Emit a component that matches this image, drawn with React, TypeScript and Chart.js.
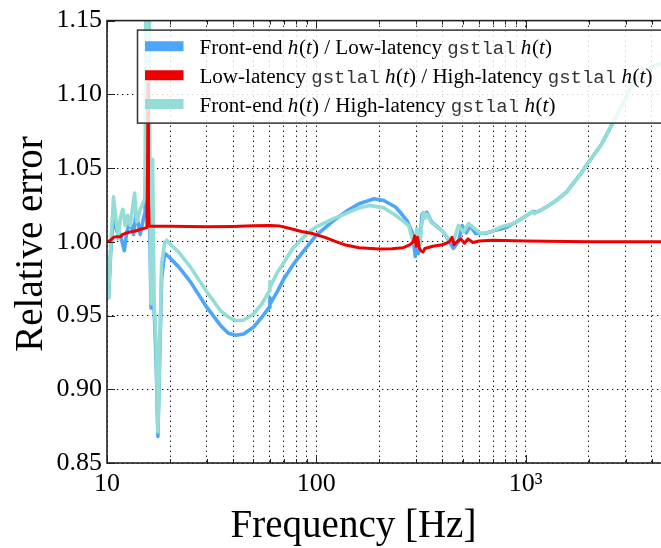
import { useEffect, useRef } from 'react';
import { Chart, registerables } from 'chart.js';

Chart.register(...registerables);

// ---------- data ----------
const seriesLabels = [
  'Front-end $h(t)$ / Low-latency `gstlal` $h(t)$',
  'Low-latency `gstlal` $h(t)$ / High-latency `gstlal` $h(t)$',
  'Front-end $h(t)$ / High-latency `gstlal` $h(t)$',
];
const seriesColors = ['#4DA6FA', '#EE0000', '#93DDD5'];

const blueFreq = [
  10.0, 10.17, 10.43, 10.74, 11.14, 11.57, 12.09, 12.44, 12.91, 13.39,
  13.79, 14.41, 14.95, 15.2, 15.45, 15.79, 16.04, 16.24, 16.51, 16.79,
  17.16, 17.5, 18.23, 18.84, 19.28, 20, 22, 25, 30, 35,
  38, 41.3, 45, 50, 55, 59.5, 60, 60.5, 65, 70,
  77, 85, 100, 120, 140, 160, 189, 210, 239, 255,
  272, 288, 297, 302, 307, 312, 320, 328, 337, 355,
  404, 434, 451, 477, 497, 520, 542, 576, 640, 718,
  800, 876, 1015, 1080, 1130, 1255, 1400, 1565, 1830, 1946,
  2300, 2616, 3000, 3270, 3700, 4400, 5000,
];
const blueVals = [
  0.990, 0.962, 0.995, 1.018, 1.007, 1.005, 0.994, 1.007, 1.0135, 1.005,
  1.020, 1.005, 1.016, 1.020, 1.100, 1.100, 1.000, 0.955, 0.966, 0.955,
  0.920, 0.868, 0.975, 0.992, 0.991, 0.989, 0.983, 0.973, 0.9555, 0.943,
  0.938, 0.9366, 0.9375, 0.942, 0.949, 0.9555, 0.962, 0.9585, 0.966, 0.975,
  0.984, 0.992, 1.0045, 1.014, 1.021, 1.0258, 1.0292, 1.028, 1.0236, 1.019,
  1.014, 1.006, 0.990, 1.004, 0.992, 0.998, 1.019, 1.016, 1.020, 1.0135,
  1.0067, 1.000, 0.9955, 1.000, 1.011, 1.006, 1.011, 1.0056, 1.0056, 1.0079,
  1.0095, 1.0124, 1.018, 1.0205, 1.020, 1.0236, 1.028, 1.0337, 1.046, 1.0517,
  1.066, 1.081, 1.097, 1.108, 1.116, 1.121, 1.125,
];

const redFreq = [
  10.0, 10.4, 10.74, 11.14, 11.57, 11.9, 12.44, 12.91, 13.8, 14.5,
  14.95, 15.5, 15.62, 15.7, 15.78, 15.9, 17, 20, 30, 40,
  50, 60, 66.5, 75, 85, 95.6, 110, 125, 138, 160,
  200, 230, 260, 280, 290, 295, 300, 305, 310, 316,
  323, 330, 360, 400, 432, 445, 455, 470, 490, 510,
  530, 560, 600, 700, 1000, 2000, 5000,
];
const redVals = [
  1.000, 1.001, 1.003, 1.0035, 1.0034, 1.005, 1.006, 1.0067, 1.0075, 1.0085,
  1.009, 1.0096, 1.05, 1.107, 1.03, 1.0105, 1.0105, 1.0105, 1.0102, 1.0104,
  1.0108, 1.0111, 1.0108, 1.009, 1.007, 1.0056, 1.003, 1.000, 0.9978, 0.996,
  0.9951, 0.9953, 0.996, 0.998, 1.000, 1.004, 0.997, 1.003, 0.996, 0.994,
  0.993, 0.9955, 0.997, 0.998, 1.000, 1.003, 0.998, 1.000, 1.002, 0.999,
  1.002, 0.9995, 1.0005, 1.001, 1.0005, 1.000, 1.000,
];

const cyanFreq = [
  10.0, 10.17, 10.43, 10.74, 11.07, 11.35, 11.57, 11.9, 12.22, 12.53,
  12.91, 13.54, 13.88, 14.41, 14.95, 15.2, 15.4, 15.85, 16.04, 16.24,
  16.51, 16.79, 17.16, 17.5, 18.23, 18.84, 19.28, 20, 22, 25,
  30, 35, 38, 41.3, 45, 50, 55, 59.5, 60, 60.5,
  65, 70, 77, 90, 100, 120, 140, 160, 180, 210,
  239, 260, 276, 290, 297, 302, 310, 324, 330, 337,
  355, 404, 434, 451, 477, 505, 534, 609, 679, 760,
  876, 1015, 1080, 1100, 1130, 1255, 1400, 1565, 1830, 1946,
  2300, 2616, 3000, 3270, 3700, 4400, 5000,
];
const cyanVals = [
  0.990, 0.962, 0.998, 1.0305, 1.0135, 1.002, 1.016, 1.022, 1.011, 1.018,
  1.011, 1.033, 1.0135, 1.022, 1.027, 1.030, 1.250, 1.250, 1.040, 0.958,
  1.056, 0.960, 0.930, 0.871, 0.985, 0.999, 1.0011, 0.9985, 0.993, 0.983,
  0.966, 0.953, 0.949, 0.9465, 0.947, 0.951, 0.958, 0.9665, 0.973, 0.970,
  0.979, 0.986, 0.9955, 1.0055, 1.0101, 1.0155, 1.0195, 1.023, 1.0247, 1.023,
  1.018, 1.014, 1.011, 1.000, 0.998, 1.009, 0.996, 1.020, 1.016, 1.019,
  1.013, 1.0067, 1.001, 1.000, 1.011, 1.0067, 1.0124, 1.0056, 1.0067, 1.010,
  1.0124, 1.018, 1.0205, 1.019, 1.020, 1.0236, 1.028, 1.0337, 1.046, 1.0517,
  1.066, 1.081, 1.097, 1.108, 1.116, 1.121, 1.125,
];

const xTicks = [
  10, 20, 30, 40, 50, 60, 70, 80, 90,
  100, 200, 300, 400, 500, 600, 700, 800, 900,
  1000, 2000, 3000, 4000,
];
const xMajorTicks = [10, 100, 1000];
const xMajorLabels = ['10', '100', '10³'];
const yTicks = [0.85, 0.9, 0.95, 1.0, 1.05, 1.1, 1.15];
const xMin = 10;
const xMax = 5000;
const yMin = 0.85;
const yMax = 1.15;
const xTitle = 'Frequency [Hz]';
const yTitle = 'Relative error';

// ---------- helpers ----------
type Seg = { t: string; k: 'r' | 'i' | 'm' };
function parseLabel(s: string): Seg[] {
  const segs: Seg[] = [];
  let buf = '';
  let i = 0;
  const flush = () => {
    if (buf) segs.push({ t: buf, k: 'r' });
    buf = '';
  };
  while (i < s.length) {
    const c = s[i];
    if (c === '$') {
      flush();
      const j = s.indexOf('$', i + 1);
      const math = s.slice(i + 1, j);
      for (const ch of math) segs.push({ t: ch, k: /[a-zA-Z]/.test(ch) ? 'i' : 'r' });
      i = j + 1;
    } else if (c === '`') {
      flush();
      const j = s.indexOf('`', i + 1);
      segs.push({ t: s.slice(i + 1, j), k: 'm' });
      i = j + 1;
    } else {
      buf += c;
      i++;
    }
  }
  flush();
  return segs;
}
const plain = (s: string) => s.replace(/[$`]/g, '');

const SERIF = '"Liberation Serif", "DejaVu Serif", serif';
const MONO = '"Liberation Mono", "DejaVu Sans Mono", monospace';
function segFont(k: Seg['k'], fs: number) {
  if (k === 'i') return `italic ${fs}px ${SERIF}`;
  if (k === 'm') return `${fs * 0.9}px ${MONO}`;
  return `${fs}px ${SERIF}`;
}

const decorPlugin = {
  id: 'decor',
  afterDatasetsDraw(chart: any) {
    const { ctx, chartArea: a, scales } = chart;
    const xs = scales.x;
    const ys = scales.y;
    ctx.save();

    // inward tick marks
    ctx.strokeStyle = '#222';
    ctx.lineWidth = 1;
    ctx.beginPath();
    xs.ticks.forEach((t: any) => {
      const px = Math.round(xs.getPixelForValue(t.value)) + 0.5;
      const len = xMajorTicks.includes(t.value) ? 8 : 4;
      ctx.moveTo(px, a.top);
      ctx.lineTo(px, a.top + len);
      ctx.moveTo(px, a.bottom);
      ctx.lineTo(px, a.bottom - len);
    });
    ys.ticks.forEach((t: any) => {
      const py = Math.round(ys.getPixelForValue(t.value)) + 0.5;
      ctx.moveTo(a.left, py);
      ctx.lineTo(a.left + 8, py);
      ctx.moveTo(a.right, py);
      ctx.lineTo(a.right - 8, py);
    });
    ctx.stroke();

    // frame
    ctx.lineWidth = 1.6;
    ctx.strokeStyle = '#222';
    ctx.strokeRect(a.left, a.top, a.right - a.left, a.bottom - a.top);

    // legend
    const rows = seriesLabels.map(parseLabel);
    const measure = (segs: Seg[], fs: number) =>
      segs.reduce((w, s) => {
        ctx.font = segFont(s.k, fs);
        return w + ctx.measureText(s.t).width;
      }, 0);
    const base = 20;
    const fs = (base * 452) / measure(rows[1], base);
    const bx = a.left + 30.5;
    const by = a.top + 9.5;
    const bw = a.right - 6 - bx;
    const bh = 93;
    ctx.fillStyle = 'rgba(255,255,255,0.82)';
    ctx.fillRect(bx, by, bw, bh);
    ctx.lineWidth = 1.5;
    ctx.strokeStyle = '#333';
    ctx.strokeRect(bx, by, bw, bh);
    rows.forEach((segs, i) => {
      const cy = a.top + 25.7 + i * 28.9;
      ctx.strokeStyle = seriesColors[i];
      ctx.lineWidth = 10;
      ctx.beginPath();
      ctx.moveTo(a.left + 38, cy);
      ctx.lineTo(a.left + 76.5, cy);
      ctx.stroke();
      let tx = a.left + 92.4;
      ctx.textBaseline = 'alphabetic';
      ctx.textAlign = 'left';
      segs.forEach((s) => {
        ctx.font = segFont(s.k, fs);
        ctx.fillStyle = s.k === 'm' ? '#333' : '#000';
        ctx.fillText(s.t, tx, cy + fs * 0.36);
        tx += ctx.measureText(s.t).width;
        if (s.k === 'i' && s.t === 'h') tx += fs * 0.03;
      });
    });

    // axis titles
    ctx.fillStyle = '#000';
    ctx.font = `39px ${SERIF}`;
    ctx.textAlign = 'center';
    ctx.textBaseline = 'alphabetic';
    ctx.fillText(xTitle, 353.5, 537);
    ctx.save();
    ctx.translate(42, 244);
    ctx.rotate(-Math.PI / 2);
    ctx.fillText(yTitle, 0, 0);
    ctx.restore();

    ctx.restore();
  },
};

function toPoints(fx: number[], vy: number[]) {
  return fx.map((f, i) => ({ x: f, y: vy[i] }));
}

export default function App() {
  const ref = useRef<HTMLCanvasElement | null>(null);
  useEffect(() => {
    if (!ref.current) return;
    const mk = (i: number, fx: number[], vy: number[], order: number, bw: number) => ({
      label: plain(seriesLabels[i]),
      data: toPoints(fx, vy),
      borderColor: seriesColors[i],
      backgroundColor: seriesColors[i],
      borderWidth: bw,
      pointRadius: 0,
      tension: 0,
      fill: false,
      clip: 0,
      order,
      borderJoinStyle: 'round' as const,
    });
    const chart = new Chart(ref.current, {
      type: 'line',
      data: {
        datasets: [
          mk(0, blueFreq, blueVals, 3, 3.6),
          mk(1, redFreq, redVals, 1, 3),
          mk(2, cyanFreq, cyanVals, 2, 3.6),
        ],
      },
      options: {
        animation: false,
        responsive: false,
        events: [],
        layout: { padding: { top: 18, right: 8, left: 0, bottom: 0 } },
        plugins: { legend: { display: false }, tooltip: { enabled: false } },
        scales: {
          x: {
            type: 'logarithmic',
            min: xMin,
            max: xMax,
            afterBuildTicks: (s: any) => {
              s.ticks = xTicks.map((v) => ({ value: v }));
            },
            afterFit: (s: any) => {
              s.height = 85;
            },
            ticks: {
              autoSkip: false,
              maxRotation: 0,
              padding: 6,
              color: '#000',
              font: { family: SERIF, size: 26 },
              callback: (v: any) => {
                const k = xMajorTicks.indexOf(Number(v));
                return k >= 0 ? xMajorLabels[k] : '';
              },
            },
            grid: { color: '#000', lineWidth: 1, drawTicks: false },
            border: { display: false, dash: [1.3, 3.7] },
          },
          y: {
            type: 'linear',
            min: yMin,
            max: yMax,
            afterBuildTicks: (s: any) => {
              s.ticks = yTicks.map((v) => ({ value: v }));
            },
            afterFit: (s: any) => {
              s.width = 107;
            },
            ticks: {
              padding: 5,
              color: '#000',
              font: { family: SERIF, size: 26 },
              callback: (v: any) => Number(v).toFixed(2),
            },
            grid: { color: '#000', lineWidth: 1, drawTicks: false },
            border: { display: false, dash: [1.3, 3.7] },
          },
        },
      },
      plugins: [decorPlugin],
    } as any);
    return () => chart.destroy();
  }, []);
  return (
    <div
      style={{
        position: 'absolute',
        left: 0,
        top: 0,
        width: 661,
        height: 548,
        overflow: 'hidden',
        background: '#fff',
      }}
    >
      <canvas ref={ref} width={680} height={548} style={{ display: 'block', width: 680, height: 548 }} />
    </div>
  );
}
